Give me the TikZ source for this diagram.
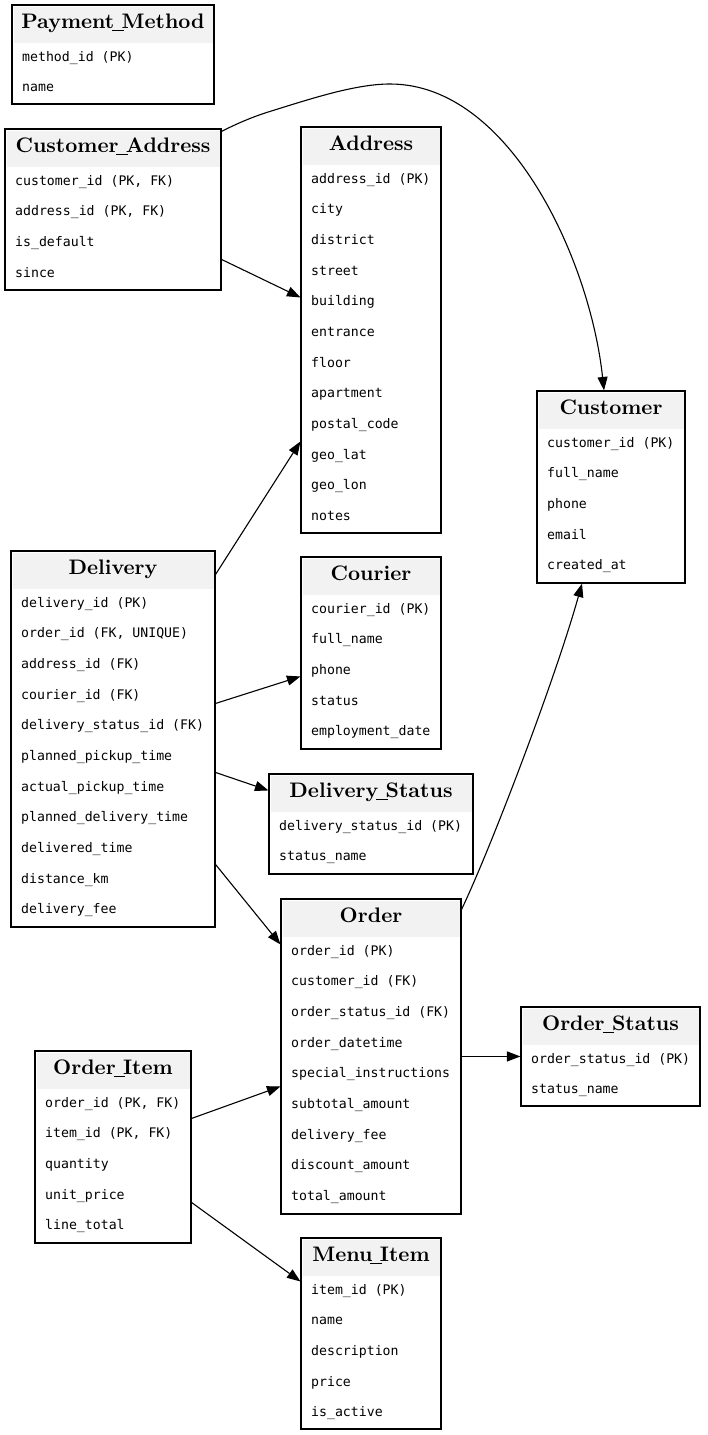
\documentclass[tikz,border=0pt]{standalone}
\usepackage{fontspec}
\setmonofont{DejaVu Sans Mono}
\newfontfamily\ttlfont{lmroman10-bold.otf}
\usetikzlibrary{fit,arrows.meta}
\definecolor{hdrgray}{RGB}{242,242,242}
\newcommand\tus{\kern-0.1em\rule[-0.12em]{0.55em}{0.07em}\kern-0.1em}
\tikzset{
  box/.style={draw=black, line width=1.1pt, inner sep=0pt},
  hdrfill/.style={fill=hdrgray},
  ttl/.style={inner sep=0pt, font=\fontsize{21}{23}\selectfont\ttlfont},
  rowtxt/.style={inner sep=0pt, font=\fontsize{13.2}{15}\selectfont\ttfamily},
  rel/.style={line width=1.1pt, -{Triangle[length=13.5pt,width=10pt]}}
}
\newcommand\ent[7]{%
  \fill[hdrfill] (#2+1.5,#3+1.5) rectangle (#4-1.5,#3+38);
  \node[box, fit={(#2,#3) (#4,#5)}] (#1) {};
  \node[ttl, anchor=base] (#1-t) at ({(#2+#4)/2},#3+23.5) {#6};
  \foreach \r [count=\i] in {#7} {
    \node[rowtxt, anchor=base west] (#1-\i) at (#2+10,{#3+56+(\i-1)*30.67}) {\r};
  }
}
\begin{document}
\begin{tikzpicture}[x=1pt,y=-1pt]
\useasboundingbox (0,0) rectangle (707,1435);
\ent{pm}{12}{5}{214}{104}{Payment\tus Method}{{method\_id (PK)},{name}}
\ent{ca}{5}{129}{221}{290}{Customer\tus Address}{{customer\_id (PK, FK)},{address\_id (PK, FK)},{is\_default},{since}}
\ent{addr}{301}{127}{441}{533}{Address}{{address\_id (PK)},{city},{district},{street},{building},{entrance},{floor},{apartment},{postal\_code},{geo\_lat},{geo\_lon},{notes}}
\ent{cust}{537}{391}{685}{583}{Customer}{{customer\_id (PK)},{full\_name},{phone},{email},{created\_at}}
\ent{deliv}{11}{551}{215}{927}{Delivery}{{delivery\_id (PK)},{order\_id (FK, UNIQUE)},{address\_id (FK)},{courier\_id (FK)},{delivery\_status\_id (FK)},{planned\_pickup\_time},{actual\_pickup\_time},{planned\_delivery\_time},{delivered\_time},{distance\_km},{delivery\_fee}}
\ent{cour}{301}{557}{441}{749}{Courier}{{courier\_id (PK)},{full\_name},{phone},{status},{employment\_date}}
\ent{ds}{269}{774}{473}{874}{Delivery\tus Status}{{delivery\_status\_id (PK)},{status\_name}}
\ent{ord}{281}{899}{461}{1214}{Order}{{order\_id (PK)},{customer\_id (FK)},{order\_status\_id (FK)},{order\_datetime},{special\_instructions},{subtotal\_amount},{delivery\_fee},{discount\_amount},{total\_amount}}
\ent{os}{521}{1007}{700}{1106}{Order\tus Status}{{order\_status\_id (PK)},{status\_name}}
\ent{oi}{35}{1051}{191}{1243}{Order\tus Item}{{order\_id (PK, FK)},{item\_id (PK, FK)},{quantity},{unit\_price},{line\_total}}
\ent{mi}{301}{1238}{441}{1429}{Menu\tus Item}{{item\_id (PK)},{name},{description},{price},{is\_active}}

\draw[rel] ([yshift=-3pt]ca.north east) .. controls (236,124) and (250,118) .. (265,113)
  .. controls (310,99) and (355,84) .. (390,84)
  .. controls (510,84) and (590,260) .. ([xshift=-7pt]cust.north);
\draw[rel] ([yshift=-131pt]ca.north east) -- ([yshift=-171pt]addr.north west);
\draw[rel] ([yshift=-24pt]deliv.north east) -- ([yshift=-315pt]addr.north west);
\draw[rel] ([yshift=-153pt]deliv.north east) -- ([yshift=-120pt]cour.north west);
\draw[rel] ([yshift=-222pt]deliv.north east) -- ([yshift=-17pt]ds.north west);
\draw[rel] ([yshift=-314pt]deliv.north east) -- ([yshift=-46pt]ord.north west);
\draw[rel] ([yshift=-11pt]ord.north east) .. controls (490,850) and (555,680) .. ([xshift=-29pt]cust.south);
\draw[rel] ([yshift=-158pt]ord.north east) -- ([yshift=-50pt]os.north west);
\draw[rel] ([yshift=-68pt]oi.north east) -- ([yshift=-188pt]ord.north west);
\draw[rel] ([yshift=-152pt]oi.north east) -- ([yshift=-44pt]mi.north west);
\end{tikzpicture}
\end{document}
